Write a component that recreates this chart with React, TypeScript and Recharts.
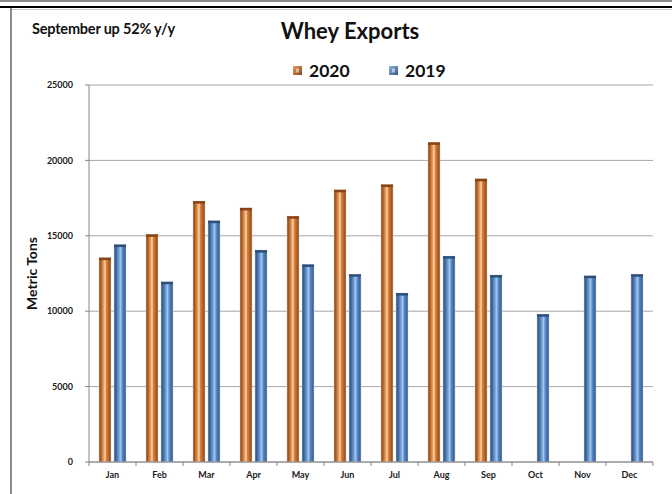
import React from "react";
import { BarChart, Bar, XAxis, YAxis, CartesianGrid } from "recharts";

// ─── Data ─────────────────────────────────────────────────────────────────────

const months = ["Jan", "Feb", "Mar", "Apr", "May", "Jun", "Jul", "Aug", "Sep", "Oct", "Nov", "Dec"];
const exports2020 = [13550, 15100, 17300, 16850, 16300, 18050, 18400, 21200, 18780, null, null, null];
const exports2019 = [14420, 11950, 16000, 14050, 13100, 12450, 11200, 13650, 12400, 9800, 12350, 12450];
const yTicks = [0, 5000, 10000, 15000, 20000, 25000];
const legendItems = [
  { label: "2020", grad: "gOrangeL", left: 293 },
  { label: "2019", grad: "gBlueL", left: 389 },
];

const data = months.map((m, i) => ({ month: m, y2020: exports2020[i], y2019: exports2019[i] }));

const FONT = "Lato, 'Open Sans', sans-serif";

// ─── Shapes ───────────────────────────────────────────────────────────────────

function Cylinder(props: any) {
  const { x, y, width, height, grad, cap } = props;
  if (!height || height <= 0) return null;
  return (
    <g>
      <rect x={x} y={y} width={width} height={height} fill={`url(#${grad})`} stroke="#d9d9d9" strokeWidth={0.6} />
      <rect x={x} y={y} width={width} height={2.5} fill={cap} />
    </g>
  );
}

// category-boundary tick marks + label (tickSize/tickMargin are 0, so y is the axis line)
function MonthTick(props: any) {
  const { x, y, payload, index, visibleTicksCount } = props;
  const half = payload?.offset ?? 23.5;
  const last = index === (visibleTicksCount ?? 12) - 1;
  return (
    <g>
      <line x1={x - half} y1={y} x2={x - half} y2={y + 4} stroke="#868686" />
      {last && <line x1={x + half} y1={y} x2={x + half} y2={y + 4} stroke="#868686" />}
      <text x={x} y={y + 16} textAnchor="middle" fontSize={9} fontWeight={700} fill="#1a1a1a" fontFamily={FONT}>
        {payload.value}
      </text>
    </g>
  );
}

// ─── Component ────────────────────────────────────────────────────────────────

export default function App() {
  return (
    <div style={{ position: "absolute", left: 0, top: 0, width: 672, height: 494, background: "#fff", overflow: "hidden" }}>
      {/* frame */}
      <div style={{ position: "absolute", left: 0, top: 0, width: 672, height: 2, background: "#8c8c8c" }} />
      <div style={{ position: "absolute", left: 0, top: 6, width: 672, height: 2, background: "#000" }} />
      <div style={{ position: "absolute", left: 11, top: 9, width: 661, height: 1, background: "#c8c8c8" }} />
      <div style={{ position: "absolute", left: 10, top: 8, width: 2, height: 486, background: "#8c8c8c" }} />

      <div style={{ position: "absolute", left: 32, top: 20, fontFamily: FONT, fontWeight: 700, fontSize: 14.5, color: "#111", letterSpacing: -0.2 }}>
        September up 52% y/y
      </div>
      <div style={{ position: "absolute", left: 0, width: 700, top: 17, textAlign: "center", fontFamily: FONT, fontWeight: 700, fontSize: 22, color: "#111" }}>
        Whey Exports
      </div>

      <svg width={0} height={0} style={{ position: "absolute" }}>
        <defs>
          <linearGradient id="gOrangeL" x1="0" y1="0" x2="1" y2="1">
            <stop offset="0%" stopColor="#e6a06a" />
            <stop offset="100%" stopColor="#8a4216" />
          </linearGradient>
          <linearGradient id="gBlueL" x1="0" y1="0" x2="1" y2="1">
            <stop offset="0%" stopColor="#8fb4e0" />
            <stop offset="100%" stopColor="#2f5686" />
          </linearGradient>
        </defs>
      </svg>

      {legendItems.map(it => (
        <div key={it.label} style={{ position: "absolute", left: it.left, top: 60, display: "flex", alignItems: "center", gap: 7, fontFamily: FONT }}>
          <svg width={9} height={9}>
            <rect x={0} y={0} width={9} height={9} fill={`url(#${it.grad})`} />
            <rect x={3} y={2.5} width={3} height={4} fill="#ffffff" opacity={0.5} />
          </svg>
          <span style={{ fontSize: 17.5, fontWeight: 700, color: "#111" }}>{it.label}</span>
        </div>
      ))}

      <div style={{ position: "absolute", left: 0, top: 0 }}>
        <BarChart
          width={672}
          height={494}
          data={data}
          margin={{ top: 85, right: 19, left: 29, bottom: 2 }}
          barSize={12}
          barGap={3}
        >
          <defs>
            <linearGradient id="gOrange" x1="0" y1="0" x2="1" y2="0">
              <stop offset="0%" stopColor="#7a3810" />
              <stop offset="18%" stopColor="#b9621f" />
              <stop offset="40%" stopColor="#e8a468" />
              <stop offset="50%" stopColor="#fbd6b0" />
              <stop offset="62%" stopColor="#d8823e" />
              <stop offset="85%" stopColor="#b35a1c" />
              <stop offset="100%" stopColor="#7a3810" />
            </linearGradient>
            <linearGradient id="gBlue" x1="0" y1="0" x2="1" y2="0">
              <stop offset="0%" stopColor="#274670" />
              <stop offset="20%" stopColor="#3f6ea8" />
              <stop offset="45%" stopColor="#7fa9dc" />
              <stop offset="55%" stopColor="#a9c9ee" />
              <stop offset="68%" stopColor="#5a8cca" />
              <stop offset="88%" stopColor="#3c69a2" />
              <stop offset="100%" stopColor="#274670" />
            </linearGradient>
          </defs>
          <CartesianGrid vertical={false} stroke="#a6a6a6" />
          <XAxis
            dataKey="month"
            axisLine={{ stroke: "#868686" }}
            tickLine={false}
            tickSize={0}
            tickMargin={0}
            tick={<MonthTick />}
            interval={0}
            height={30}
          />
          <YAxis
            domain={[0, 25000]}
            ticks={yTicks}
            width={60}
            axisLine={{ stroke: "#868686" }}
            tickLine={{ stroke: "#868686" }}
            tickSize={4}
            tick={{ fontSize: 9, fontWeight: 700, fill: "#1a1a1a", fontFamily: FONT, dx: -10 }}
            label={{
              value: "Metric Tons",
              angle: -90,
              position: "insideLeft",
              offset: 3,
              style: { fontSize: 14, fontWeight: 700, fill: "#111", fontFamily: FONT, textAnchor: "middle" },
            }}
          />
          <Bar dataKey="y2020" name="2020" isAnimationActive={false} shape={(p: any) => <Cylinder {...p} grad="gOrange" cap="#8a4216" />} />
          <Bar dataKey="y2019" name="2019" isAnimationActive={false} shape={(p: any) => <Cylinder {...p} grad="gBlue" cap="#2d4f7c" />} />
        </BarChart>
      </div>
    </div>
  );
}
